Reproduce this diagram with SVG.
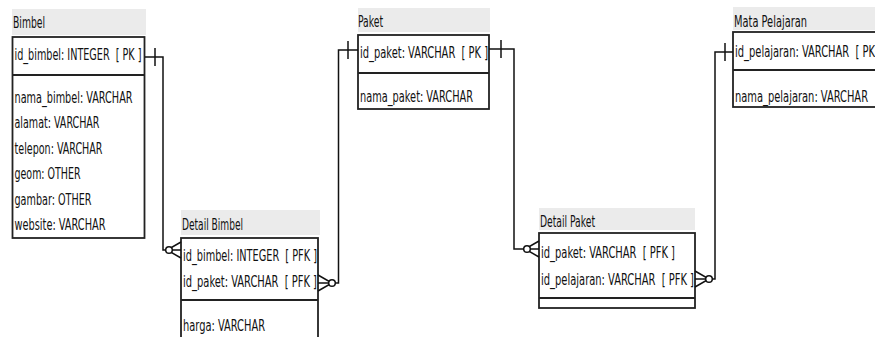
<svg xmlns="http://www.w3.org/2000/svg" width="875" height="337" viewBox="0 0 875 337">
<style>
.hd{fill:#ebebeb;stroke:none}
.bx{fill:#ffffff;stroke:#222;stroke-width:1.8}
.dv{stroke:#222;stroke-width:1.8;fill:none}
.t{font-family:"DejaVu Sans Condensed","DejaVu Sans","Liberation Sans",sans-serif;font-size:16px;fill:#111;white-space:pre}
.cn{fill:none;stroke:#111;stroke-width:1.5}
.cc{fill:#fff;stroke:#111;stroke-width:1.5}
</style>
<rect width="875" height="337" fill="#ffffff"/>
<g id="bimbel">
<rect class="hd" x="12" y="9" width="134" height="26"/>
<text class="t" x="13" y="28" textLength="32" lengthAdjust="spacingAndGlyphs">Bimbel</text>
<rect class="bx" x="12.5" y="37" width="132" height="201"/>
<line class="dv" x1="12.5" y1="75" x2="144.5" y2="75"/>
<text class="t" x="14.5" y="59.5" textLength="127" lengthAdjust="spacingAndGlyphs">id_bimbel: INTEGER  [ PK ]</text>
<text class="t" x="14.5" y="103" textLength="118" lengthAdjust="spacingAndGlyphs">nama_bimbel: VARCHAR</text>
<text class="t" x="14.5" y="128.4" textLength="85" lengthAdjust="spacingAndGlyphs">alamat: VARCHAR</text>
<text class="t" x="14.5" y="153.8" textLength="88" lengthAdjust="spacingAndGlyphs">telepon: VARCHAR</text>
<text class="t" x="14.5" y="179.2" textLength="66" lengthAdjust="spacingAndGlyphs">geom: OTHER</text>
<text class="t" x="14.5" y="204.6" textLength="77" lengthAdjust="spacingAndGlyphs">gambar: OTHER</text>
<text class="t" x="14.5" y="230" textLength="91" lengthAdjust="spacingAndGlyphs">website: VARCHAR</text>
</g>
<g id="detail-bimbel">
<rect class="hd" x="181" y="210" width="139" height="25"/>
<text class="t" x="182" y="230" textLength="61" lengthAdjust="spacingAndGlyphs">Detail Bimbel</text>
<rect class="bx" x="181" y="238" width="137" height="110"/>
<line class="dv" x1="181" y1="300" x2="318" y2="300"/>
<text class="t" x="183" y="261" textLength="134" lengthAdjust="spacingAndGlyphs">id_bimbel: INTEGER  [ PFK ]</text>
<text class="t" x="183" y="287" textLength="134" lengthAdjust="spacingAndGlyphs">id_paket: VARCHAR  [ PFK ]</text>
<text class="t" x="183" y="330.5" textLength="82" lengthAdjust="spacingAndGlyphs">harga: VARCHAR</text>
</g>
<g id="paket">
<rect class="hd" x="358" y="8" width="132" height="24"/>
<text class="t" x="358" y="26.5" textLength="25" lengthAdjust="spacingAndGlyphs">Paket</text>
<rect class="bx" x="358" y="35" width="131" height="74"/>
<line class="dv" x1="358" y1="73" x2="489" y2="73"/>
<text class="t" x="360" y="58" textLength="128" lengthAdjust="spacingAndGlyphs">id_paket: VARCHAR  [ PK ]</text>
<text class="t" x="360" y="102" textLength="113" lengthAdjust="spacingAndGlyphs">nama_paket: VARCHAR</text>
</g>
<g id="detail-paket">
<rect class="hd" x="539" y="208" width="156" height="22"/>
<text class="t" x="540" y="227" textLength="55" lengthAdjust="spacingAndGlyphs">Detail Paket</text>
<rect class="bx" x="539" y="233" width="156" height="75"/>
<line class="dv" x1="539" y1="298" x2="695" y2="298"/>
<text class="t" x="541" y="257.5" textLength="134" lengthAdjust="spacingAndGlyphs">id_paket: VARCHAR  [ PFK ]</text>
<text class="t" x="541" y="284.5" textLength="153" lengthAdjust="spacingAndGlyphs">id_pelajaran: VARCHAR  [ PFK ]</text>
</g>
<g id="mata-pelajaran">
<rect class="hd" x="733" y="7" width="150" height="23"/>
<text class="t" x="734" y="26.5" textLength="73" lengthAdjust="spacingAndGlyphs">Mata Pelajaran</text>
<rect class="bx" x="733" y="32" width="160" height="75"/>
<line class="dv" x1="733" y1="70" x2="893" y2="70"/>
<text class="t" x="735" y="57" textLength="147" lengthAdjust="spacingAndGlyphs">id_pelajaran: VARCHAR  [ PK ]</text>
<text class="t" x="735" y="101.5" textLength="133" lengthAdjust="spacingAndGlyphs">nama_pelajaran: VARCHAR</text>
</g>
<g id="connectors">
<path class="cn" d="M145,57 H163 V250 H181"/>
<line class="cn" x1="155" y1="48" x2="155" y2="66"/>
<path class="cn" d="M181,242 L167,250 L181,258"/>
<circle class="cc" cx="169" cy="250" r="3.3"/>
<path class="cn" d="M358,50 H338.5 V283 H318"/>
<line class="cn" x1="348" y1="41" x2="348" y2="59"/>
<path class="cn" d="M318,275 L332,283 L318,291"/>
<circle class="cc" cx="332" cy="283" r="3.3"/>
<path class="cn" d="M489,49 H514 V249 H539"/>
<line class="cn" x1="501" y1="40" x2="501" y2="58"/>
<path class="cn" d="M539,241 L525,249 L539,257"/>
<circle class="cc" cx="527" cy="249" r="3.3"/>
<path class="cn" d="M733,52 H715 V279 H695"/>
<line class="cn" x1="725" y1="43" x2="725" y2="61"/>
<path class="cn" d="M695,271 L709,279 L695,287"/>
<circle class="cc" cx="709" cy="279" r="3.3"/>
</g>
</svg>
